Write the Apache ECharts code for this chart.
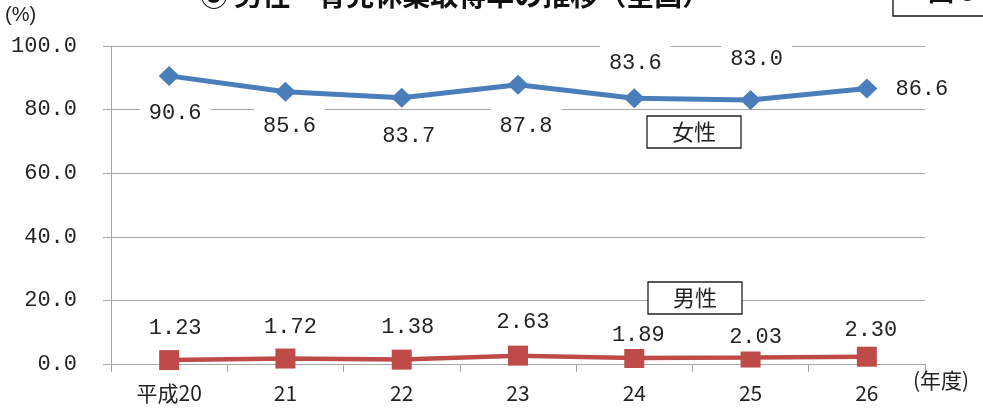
<!DOCTYPE html>
<html><head><meta charset="utf-8">
<script src="https://cdn.jsdelivr.net/npm/echarts@6/dist/echarts.min.js"></script>
<style>html,body{margin:0;padding:0;background:#fff}#c{width:983px;height:413px}</style>
</head><body><div id="c"></div>
<script>
const categories = ['平成20', '21', '22', '23', '24', '25', '26'];
const femaleValues = [90.6, 85.6, 83.7, 87.8, 83.6, 83.0, 86.6];
const maleValues = [1.23, 1.72, 1.38, 2.63, 1.89, 2.03, 2.30];
const yTicks = [0, 20, 40, 60, 80, 100];

// label placement (style only)
const femaleLabelOffsets = [[6, 37], [4, 34], [7, 38], [8, 41], [1, -35], [6, -41], [55, 1]];
const maleLabelOffsets = [[6, -32], [5, -31], [6, -32], [5, -33], [4, -23], [5, -20], [4, -27]];

const GRID_C = '#a6a6a6';
const TXT = '#222';
const MONO = "'Liberation Mono', 'DejaVu Sans Mono', monospace";
const JP = "'Noto Sans CJK JP', sans-serif";

function mkData(values, offsets, padV) {
  return values.map((v, i) => ({
    value: v,
    label: {
      show: true, position: 'inside', offset: offsets[i],
      formatter: () => v.toFixed(v < 10 ? 2 : 1),
      fontFamily: MONO, fontSize: 22, color: TXT,
      backgroundColor: '#fff', padding: [padV, 9]
    }
  }));
}

const chart = echarts.init(document.getElementById('c'), null, {renderer: 'canvas'});
chart.setOption({
  animation: false,
  backgroundColor: '#fff',
  grid: {left: 111, right: 58, top: 46, bottom: 49, containLabel: false},
  xAxis: {
    type: 'category', data: categories, boundaryGap: true,
    axisLine: {show: true, lineStyle: {color: GRID_C, width: 1}},
    axisTick: {show: true, length: 8, lineStyle: {color: GRID_C}},
    axisLabel: {margin: 19, fontSize: 21, fontFamily: JP, color: TXT},
    splitLine: {show: false}
  },
  yAxis: {
    type: 'value', min: yTicks[0], max: yTicks[yTicks.length - 1], interval: yTicks[1] - yTicks[0],
    axisLine: {show: true, lineStyle: {color: GRID_C, width: 1}},
    axisTick: {show: true, length: 8, lineStyle: {color: GRID_C}},
    axisLabel: {margin: 34, fontSize: 22, fontFamily: MONO, color: TXT, formatter: v => v.toFixed(1)},
    splitLine: {show: true, lineStyle: {color: GRID_C, width: 1}}
  },
  series: [
    {
      name: '女性', type: 'line', data: mkData(femaleValues, femaleLabelOffsets, 8),
      symbol: 'diamond', symbolSize: [21, 20],
      lineStyle: {color: '#4a7ebb', width: 5},
      itemStyle: {color: '#4a7ebb'}, z: 3
    },
    {
      name: '男性', type: 'line', data: mkData(maleValues, maleLabelOffsets, 3),
      symbol: 'rect', symbolSize: [20, 20],
      lineStyle: {color: '#be4b48', width: 4.5},
      itemStyle: {color: '#be4b48'}, z: 3
    }
  ],
  graphic: [
    {type: 'text', left: 200, top: -19, z: 50,
     style: {text: '③ 男性・育児休業取得率の推移（全国）', font: "bold 28px 'Noto Sans CJK JP'", fill: '#111'}},
    {type: 'rect', shape: {x: 893, y: -30, width: 120, height: 46}, z: 50,
     style: {fill: '#fff', stroke: '#111', lineWidth: 1.3}},
    {type: 'text', left: 928, top: -22, z: 51,
     style: {text: '図６', font: "bold 26px 'Noto Sans CJK JP'", fill: '#111'}},
    {type: 'text', left: 5, top: 5, z: 50,
     style: {text: '(%)', font: "20px 'Liberation Sans'", fill: TXT}},
    {type: 'text', left: 913, top: 370, z: 50,
     style: {text: '(年度)', font: "21px 'Noto Sans CJK JP'", fill: TXT}},
    {type: 'group', z: 50, children: [
      {type: 'rect', shape: {x: 647, y: 116, width: 94, height: 32},
       style: {fill: '#fff', stroke: '#222', lineWidth: 1.3}, z: 50},
      {type: 'text', x: 694, y: 132, z: 51,
       style: {text: '女性', font: "22px 'Noto Sans CJK JP'", fill: TXT, align: 'center', verticalAlign: 'middle'}}
    ]},
    {type: 'group', z: 50, children: [
      {type: 'rect', shape: {x: 648, y: 282, width: 94, height: 32},
       style: {fill: '#fff', stroke: '#222', lineWidth: 1.3}, z: 50},
      {type: 'text', x: 695, y: 298, z: 51,
       style: {text: '男性', font: "22px 'Noto Sans CJK JP'", fill: TXT, align: 'center', verticalAlign: 'middle'}}
    ]}
  ]
});
</script>
</body></html>
